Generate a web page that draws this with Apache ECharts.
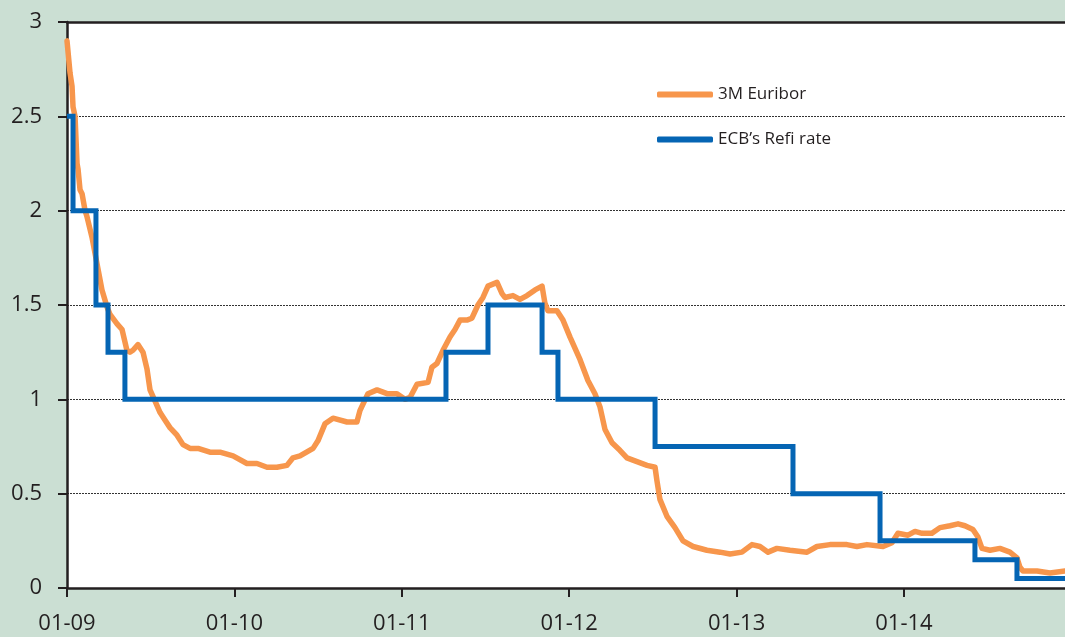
<!DOCTYPE html>
<html>
<head>
<meta charset="utf-8">
<script src="https://cdn.jsdelivr.net/npm/echarts@6/dist/echarts.min.js"></script>
<style>
html,body{margin:0;padding:0;background:#cbdfd3;}
#c{width:1065px;height:637px;}
</style>
</head>
<body>
<div id="c"></div>
<script>
// x positions in years (decimal), values in %
const euriborYears = [2009.000,2009.018,2009.030,2009.036,2009.048,2009.060,2009.066,2009.078,2009.090,2009.108,2009.119,2009.149,2009.179,2009.209,2009.239,2009.257,2009.299,2009.329,2009.358,2009.376,2009.394,2009.424,2009.454,2009.478,2009.496,2009.526,2009.556,2009.585,2009.615,2009.657,2009.693,2009.735,2009.783,2009.854,2009.914,2009.992,2010.075,2010.135,2010.195,2010.254,2010.314,2010.350,2010.392,2010.470,2010.499,2010.541,2010.589,2010.673,2010.732,2010.750,2010.798,2010.852,2010.912,2010.971,2011.019,2011.049,2011.091,2011.157,2011.180,2011.210,2011.246,2011.288,2011.318,2011.348,2011.389,2011.419,2011.455,2011.485,2011.515,2011.569,2011.599,2011.616,2011.664,2011.706,2011.748,2011.796,2011.838,2011.855,2011.873,2011.927,2011.963,2012.005,2012.065,2012.112,2012.154,2012.184,2012.214,2012.256,2012.303,2012.345,2012.405,2012.465,2012.513,2012.524,2012.542,2012.584,2012.632,2012.680,2012.740,2012.823,2012.901,2012.961,2013.032,2013.092,2013.140,2013.188,2013.241,2013.319,2013.421,2013.480,2013.558,2013.659,2013.719,2013.779,2013.875,2013.928,2013.964,2014.024,2014.066,2014.108,2014.167,2014.215,2014.275,2014.323,2014.364,2014.412,2014.442,2014.466,2014.514,2014.573,2014.633,2014.675,2014.693,2014.711,2014.795,2014.872,2014.962];
const euriborValues = [2.90,2.73,2.66,2.55,2.50,2.25,2.22,2.11,2.09,2.00,1.97,1.86,1.72,1.58,1.49,1.45,1.40,1.37,1.26,1.25,1.26,1.29,1.25,1.16,1.05,0.99,0.93,0.89,0.85,0.81,0.76,0.74,0.74,0.72,0.72,0.70,0.66,0.66,0.64,0.64,0.65,0.69,0.70,0.74,0.78,0.87,0.90,0.88,0.88,0.94,1.03,1.05,1.03,1.03,1.00,1.01,1.08,1.09,1.17,1.19,1.26,1.33,1.37,1.42,1.42,1.43,1.50,1.54,1.60,1.62,1.56,1.54,1.55,1.53,1.55,1.58,1.60,1.51,1.47,1.47,1.42,1.33,1.21,1.10,1.03,0.96,0.84,0.77,0.73,0.69,0.67,0.65,0.64,0.57,0.47,0.38,0.32,0.25,0.22,0.20,0.19,0.18,0.19,0.23,0.22,0.19,0.21,0.20,0.19,0.22,0.23,0.23,0.22,0.23,0.22,0.24,0.29,0.28,0.30,0.29,0.29,0.32,0.33,0.34,0.33,0.31,0.27,0.21,0.20,0.21,0.19,0.16,0.11,0.09,0.09,0.08,0.09];
// refi rate: each point = date the rate changed to the given value
const refiYears = [2009.000,2009.036,2009.173,2009.245,2009.346,2011.264,2011.515,2011.838,2011.933,2012.513,2013.337,2013.857,2014.424,2014.675,2014.962];
const refiValues = [2.50,2.00,1.50,1.25,1.00,1.25,1.50,1.25,1.00,0.75,0.50,0.25,0.15,0.05,0.05];
const xTickYears = [2009, 2010, 2011, 2012, 2013, 2014];
const xTickLabels = ['01-09','01-10','01-11','01-12','01-13','01-14'];
const yTicks = ['0','0.5','1','1.5','2','2.5','3'];
const seriesNames = ['3M Euribor', "ECB\u2019s Refi rate"];

const FONT = '"Open Sans", "Noto Sans", sans-serif';
const TXT = '#231f20';
const X_MIN = 2009, X_MAX = 2014.962;
const chart = echarts.init(document.getElementById('c'), null, {renderer:'canvas'});
chart.setOption({
  backgroundColor: '#cbdfd3',
  animation: false,
  grid: {left: 67, top: 22, right: 0, bottom: 49, show: true, backgroundColor: '#ffffff', borderWidth: 0, containLabel: false},
  legend: {
    orient: 'vertical', left: 652, top: 81, itemGap: 28,
    itemWidth: 56, itemHeight: 6, icon: 'roundRect',
    textStyle: {fontFamily: FONT, fontSize: 17, color: TXT, padding: [0,0,0,0]},
    data: seriesNames
  },
  xAxis: [{
    type: 'value', min: X_MIN, max: X_MAX, position: 'bottom',
    axisLine: {show: true, onZero: false, lineStyle: {color: TXT, width: 2.5}},
    axisTick: {show: true, length: 9, lineStyle: {color: TXT, width: 2}, customValues: xTickYears},
    axisLabel: {margin: 25, fontFamily: FONT, fontSize: 22, color: TXT, customValues: xTickYears,
      formatter: v => xTickLabels[xTickYears.indexOf(Math.round(v))] || ''},
    splitLine: {show: false}
  },{
    type: 'value', min: X_MIN, max: X_MAX, position: 'top',
    axisLine: {show: true, onZero: false, lineStyle: {color: TXT, width: 2.5}},
    axisTick: {show: false}, axisLabel: {show: false}, splitLine: {show: false}
  }],
  yAxis: {
    type: 'value', min: 0, max: 3, interval: 0.5,
    axisLine: {show: true, onZero: false, lineStyle: {color: TXT, width: 2.5}},
    axisTick: {show: true, length: 9, lineStyle: {color: TXT, width: 2}},
    axisLabel: {margin: 25, fontFamily: FONT, fontSize: 22, color: TXT,
      formatter: (v) => yTicks[Math.round(v * 2)]},
    splitLine: {show: true, lineStyle: {color: '#333', width: 1, type: [2, 1]}}
  },
  series: [{
    name: seriesNames[0], type: 'line', xAxisIndex: 0,
    data: euriborYears.map((x, i) => [x, euriborValues[i]]),
    showSymbol: false, symbol: 'none', smooth: false,
    lineStyle: {color: '#f7964c', width: 5.5, cap: 'round', join: 'round'},
    itemStyle: {color: '#f7964c'}, z: 2
  },{
    name: seriesNames[1], type: 'line', xAxisIndex: 0, step: 'end',
    data: refiYears.map((x, i) => [x, refiValues[i]]),
    showSymbol: false, symbol: 'none',
    lineStyle: {color: '#0565b4', width: 5, join: 'miter'},
    itemStyle: {color: '#0565b4'}, z: 3
  }]
});
</script>
</body>
</html>
